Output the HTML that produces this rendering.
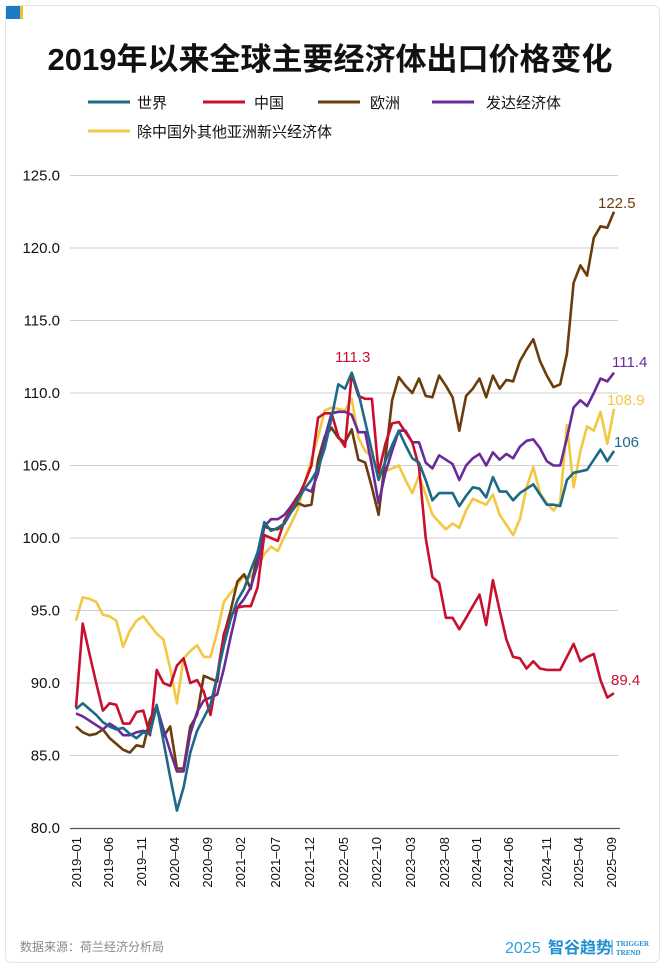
<!DOCTYPE html>
<html><head><meta charset="utf-8">
<style>
body{margin:0;background:#fff;width:665px;height:968px;overflow:hidden;font-family:"Liberation Sans","Noto Sans CJK SC",sans-serif;}
</style></head>
<body>
<svg id="c" width="665" height="968" xmlns="http://www.w3.org/2000/svg" font-family="Liberation Sans, Noto Sans CJK SC, sans-serif">
<rect x="5.5" y="5.5" width="654" height="957" rx="6" fill="#fff" stroke="#e4e4e4"/>
<rect x="6" y="6" width="14" height="13" fill="#1a7ac4"/>
<rect x="20" y="6" width="3" height="13" fill="#f2c02e"/>
<text x="330" y="70" text-anchor="middle" font-size="31" font-weight="bold" fill="#111">2019年以来全球主要经济体出口价格变化</text>
<g font-size="15" fill="#111">
<line x1="88" y1="102" x2="130" y2="102" stroke="#1c6a86" stroke-width="3"/><text x="137" y="108">世界</text>
<line x1="203" y1="102" x2="245" y2="102" stroke="#c8102e" stroke-width="3"/><text x="254" y="108">中国</text>
<line x1="318" y1="102" x2="360" y2="102" stroke="#6b3d0c" stroke-width="3"/><text x="370" y="108">欧洲</text>
<line x1="432" y1="102" x2="474" y2="102" stroke="#6a2a9a" stroke-width="3"/><text x="486" y="108">发达经济体</text>
<line x1="88" y1="131" x2="130" y2="131" stroke="#f2c744" stroke-width="3"/><text x="137" y="137">除中国外其他亚洲新兴经济体</text>
</g>
<g id="grid"></g>
<g id="series" fill="none" stroke-width="2.6" stroke-linejoin="round"></g>
<line x1="70" y1="828.5" x2="620" y2="828.5" stroke="#555" stroke-width="1.2"/>
<g id="xl" font-size="13" fill="#111"></g>
<g font-size="15">
<text x="598" y="208" fill="#6b3d0c">122.5</text>
<text x="335" y="362" fill="#c8102e">111.3</text>
<text x="612" y="367" fill="#6a2a9a">111.4</text>
<text x="607" y="405" fill="#f2c744">108.9</text>
<text x="614" y="447" fill="#1c6a86">106</text>
<text x="611" y="685" fill="#c8102e">89.4</text>
</g>
<text x="20" y="951" font-size="12" fill="#888">数据来源：荷兰经济分析局</text>
<text x="505" y="953" font-size="16" fill="#29a3dc">2025</text>
<text x="548" y="953" font-size="16" font-weight="bold" fill="#1e8fd0">智谷趋势</text>
<line x1="612" y1="940" x2="612" y2="955" stroke="#1e8fd0"/>
<text x="616" y="946" font-size="7" font-weight="bold" fill="#1e8fd0" font-family="Liberation Serif, serif">TRIGGER</text>
<text x="616" y="955" font-size="7" font-weight="bold" fill="#1e8fd0" font-family="Liberation Serif, serif">TREND</text>
</svg>
<script>
const NS="http://www.w3.org/2000/svg";
const y=v=>538-(v-100)*14.5;
const X0=76,X1=614;
const g=document.getElementById('grid');
for(let v=80;v<=125;v+=5){
 if(v>80){const l=document.createElementNS(NS,'line');l.setAttribute('x1',70);l.setAttribute('x2',618);l.setAttribute('y1',y(v));l.setAttribute('y2',y(v));l.setAttribute('stroke','#cfcfcf');l.setAttribute('stroke-width','1');g.appendChild(l);}
 const t=document.createElementNS(NS,'text');t.setAttribute('x',60);t.setAttribute('y',y(v)+5);t.setAttribute('text-anchor','end');t.setAttribute('font-size','15');t.setAttribute('fill','#111');t.textContent=v.toFixed(1);g.appendChild(t);
}
const S={
"#f2c744":[94.3,95.9,95.8,95.6,94.7,94.6,94.3,92.5,93.6,94.3,94.6,94.0,93.4,93.0,91.0,88.6,91.7,92.2,92.6,91.8,91.8,93.5,95.6,96.2,96.8,97.4,97.3,98.0,98.9,99.4,99.1,100.1,101.0,102.0,103.8,105.4,107.0,108.8,109.0,108.9,108.8,109.6,106.9,106.0,105.6,104.4,104.6,104.8,105.0,104.0,103.1,104.3,103.0,101.6,101.1,100.6,101.0,100.7,101.9,102.7,102.5,102.3,103.0,101.6,100.9,100.2,101.3,103.5,104.9,103.1,102.4,101.9,102.5,107.8,103.5,106.0,107.7,107.4,108.7,106.5,108.9],
"#6b3d0c":[87.0,86.6,86.4,86.5,86.8,86.2,85.8,85.4,85.2,85.7,85.6,87.5,88.4,86.3,87.0,84.1,84.1,87.0,87.8,90.5,90.3,90.1,93.3,95.0,97.0,97.5,96.5,99.0,100.8,100.6,100.6,101.0,101.8,102.4,102.2,102.3,105.4,107.0,107.6,106.9,106.6,107.5,105.4,105.2,103.5,101.6,105.5,109.5,111.1,110.5,110.0,111.0,109.8,109.7,111.2,110.5,109.7,107.4,109.8,110.3,111.0,109.7,111.2,110.3,110.9,110.8,112.2,113.0,113.7,112.2,111.2,110.4,110.6,112.7,117.6,118.8,118.1,120.7,121.5,121.4,122.5],
"#6a2a9a":[87.9,87.7,87.4,87.1,86.8,87.2,86.9,86.4,86.4,86.6,86.7,86.6,88.4,86.8,85.3,83.9,83.9,86.5,88.0,88.8,89.0,89.2,91.0,93.2,95.2,95.8,96.6,98.2,100.8,101.3,101.3,101.6,102.2,102.9,103.4,103.2,104.5,106.9,108.6,108.7,108.7,108.5,107.3,107.3,105.0,102.4,104.5,106.0,107.4,107.4,106.6,106.6,105.2,104.8,105.7,105.4,105.1,104.0,105.0,105.5,105.8,105.0,105.9,105.4,105.8,105.5,106.3,106.7,106.8,106.2,105.3,105.0,105.0,106.9,109.0,109.5,109.1,110.0,111.0,110.8,111.4],
"#c8102e":[88.3,94.1,92.0,90.0,88.1,88.6,88.5,87.2,87.2,88.0,88.1,86.4,90.9,90.0,89.8,91.2,91.7,90.0,90.2,89.4,87.8,90.5,93.4,94.6,95.2,95.3,95.3,96.6,100.2,100.0,99.8,101.2,102.0,102.8,103.8,105.0,108.3,108.6,108.6,107.0,106.3,111.3,109.8,109.6,109.6,104.5,106.5,107.9,108.0,107.3,106.6,104.9,100.0,97.3,96.9,94.5,94.5,93.7,94.5,95.3,96.1,94.0,97.1,95.0,93.0,91.8,91.7,91.0,91.5,91.0,90.9,90.9,90.9,91.8,92.7,91.5,91.8,92.0,90.2,89.0,89.3],
"#1c6a86":[88.2,88.6,88.2,87.8,87.3,87.0,86.8,86.9,86.5,86.2,86.6,86.5,88.5,86.0,83.5,81.2,82.8,85.2,86.7,87.6,88.5,90.5,92.6,94.4,95.7,96.5,97.8,99.0,101.1,100.5,100.7,101.0,101.8,102.6,103.4,104.0,104.8,106.2,108.3,110.6,110.3,111.4,110.0,108.0,106.0,104.0,105.3,106.4,107.4,106.4,105.5,105.2,104.0,102.6,103.1,103.1,103.1,102.2,102.9,103.5,103.4,102.8,104.2,103.2,103.2,102.6,103.1,103.4,103.7,103.0,102.3,102.3,102.2,104.0,104.5,104.6,104.7,105.4,106.1,105.3,106.0]
};
const sg=document.getElementById('series');
for(const c in S){const a=S[c];const p=a.map((v,i)=>(X0+(X1-X0)*i/(a.length-1)).toFixed(1)+','+y(v).toFixed(1)).join(' ');
 const pl=document.createElementNS(NS,'polyline');pl.setAttribute('points',p);pl.setAttribute('stroke',c);sg.appendChild(pl);}
const labs=[["2019-01",76],["2019-06",108],["2019-11",141],["2020-04",174],["2020-09",207],["2021-02",240],["2021-07",275],["2021-12",309],["2022-05",343],["2022-10",376],["2023-03",410],["2023-08",444],["2024-01",476],["2024-06",508],["2024-11",546],["2025-04",578],["2025-09",611]];
const xl=document.getElementById('xl');
for(const [t,x] of labs){const e=document.createElementNS(NS,'text');e.setAttribute('transform',`translate(${x+5},837) rotate(-90)`);e.setAttribute('text-anchor','end');e.textContent=t.replace('-','–');xl.appendChild(e);}
</script>
</body></html>
